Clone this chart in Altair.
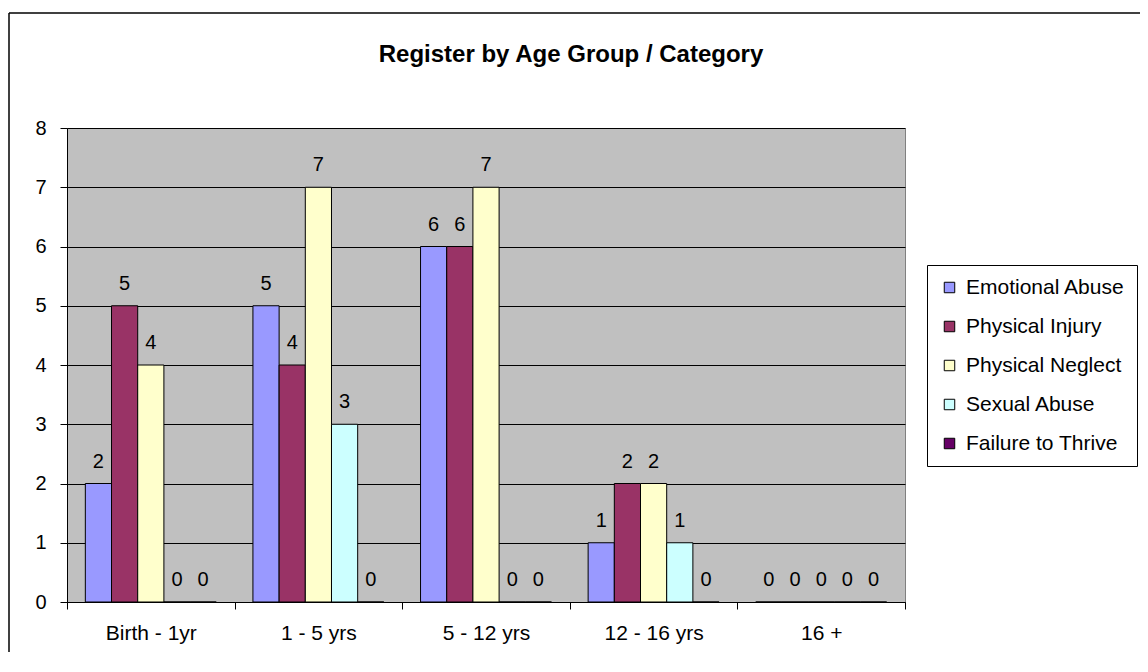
import altair as alt
import pandas as pd

TITLE = "Register by Age Group / Category"
ages = ["Birth - 1yr", "1 - 5 yrs", "5 - 12 yrs", "12 - 16 yrs", "16 +"]
cats = ["Emotional Abuse", "Physical Injury", "Physical Neglect", "Sexual Abuse", "Failure to Thrive"]
colors = ["#9999FF", "#993366", "#FFFFCC", "#CCFFFF", "#660066"]

emotional_abuse = [2, 5, 6, 1, 0]
physical_injury = [5, 4, 6, 2, 0]
physical_neglect = [4, 7, 7, 2, 0]
sexual_abuse = [0, 3, 0, 1, 0]
failure_to_thrive = [0, 0, 0, 0, 0]

series = [emotional_abuse, physical_injury, physical_neglect, sexual_abuse, failure_to_thrive]
rows = []
for cat, vals in zip(cats, series):
    for age, v in zip(ages, vals):
        rows.append({"age": age, "cat": cat, "value": v})
df = pd.DataFrame(rows)

FONT = "Liberation Sans"

x_enc = alt.X(
    "age:N",
    sort=ages,
    scale=alt.Scale(paddingInner=0, paddingOuter=0),
    axis=alt.Axis(
        title=None, tickBand="extent", labelAngle=0, labelFontSize=21, labelFont=FONT,
        labelColor="black", domainColor="black", tickColor="black", tickSize=7,
        labelPadding=13, grid=False,
    ),
)
xo_enc = alt.XOffset("cat:N", sort=cats, scale=alt.Scale(paddingOuter=0.7, paddingInner=0))
y_enc = alt.Y(
    "value:Q",
    scale=alt.Scale(domain=[0, 8], nice=False),
    axis=alt.Axis(
        title=None, values=[0, 1, 2, 3, 4, 5, 6, 7, 8], format="d", labelFontSize=20, labelFont=FONT,
        labelColor="black", domainColor="black", tickColor="black", tickSize=7,
        labelPadding=14, grid=True, gridColor="black", gridWidth=1, gridOpacity=1,
    ),
)

bars = alt.Chart(df).mark_bar(stroke="black", strokeWidth=1, opacity=1).encode(
    x=x_enc,
    xOffset=xo_enc,
    y=y_enc,
    color=alt.Color(
        "cat:N",
        sort=cats,
        scale=alt.Scale(domain=cats, range=colors),
        legend=alt.Legend(
            title=None, orient="none", legendX=860, legendY=137,
            strokeColor="black", fillColor="white", padding=12,
            symbolType="square", symbolSize=110, symbolStrokeColor="black",
            symbolStrokeWidth=1, symbolOpacity=1, labelFontSize=21, labelFont=FONT,
            labelColor="black", rowPadding=17, labelOffset=6, labelLimit=300,
        ),
    ),
)

labels = alt.Chart(df).mark_text(
    baseline="alphabetic", dy=-16, fontSize=20, font=FONT, color="black"
).encode(
    x=alt.X("age:N", sort=ages),
    xOffset=alt.XOffset("cat:N", sort=cats),
    y="value:Q",
    text="value:Q",
)

one = pd.DataFrame({"k": [0]})
frame_left = alt.Chart(one).mark_rule(color="black", strokeWidth=1.5).encode(
    x=alt.value(-58), y=alt.value(-115), y2=alt.value(700)
)
frame_top = alt.Chart(one).mark_rule(color="black", strokeWidth=1.5).encode(
    x=alt.value(-58), x2=alt.value(1300), y=alt.value(-115)
)

title = alt.Chart(pd.DataFrame({"t": [TITLE]})).mark_text(
    fontSize=24, fontWeight="bold", font=FONT, color="black", align="center",
    baseline="alphabetic",
).encode(text="t:N", x=alt.value(504), y=alt.value(-66))

chart = alt.layer(frame_left, frame_top, bars, labels, title).properties(
    width=838, height=474,
    background="white",
    autosize=alt.AutoSizeParams(type="none"),
    padding={"left": 59, "top": 120, "right": 235, "bottom": 50},
).configure_view(
    fill="#C0C0C0", stroke="#808080", strokeWidth=1
)

chart.save("out.html", embed_options={"renderer": "svg", "actions": False})
